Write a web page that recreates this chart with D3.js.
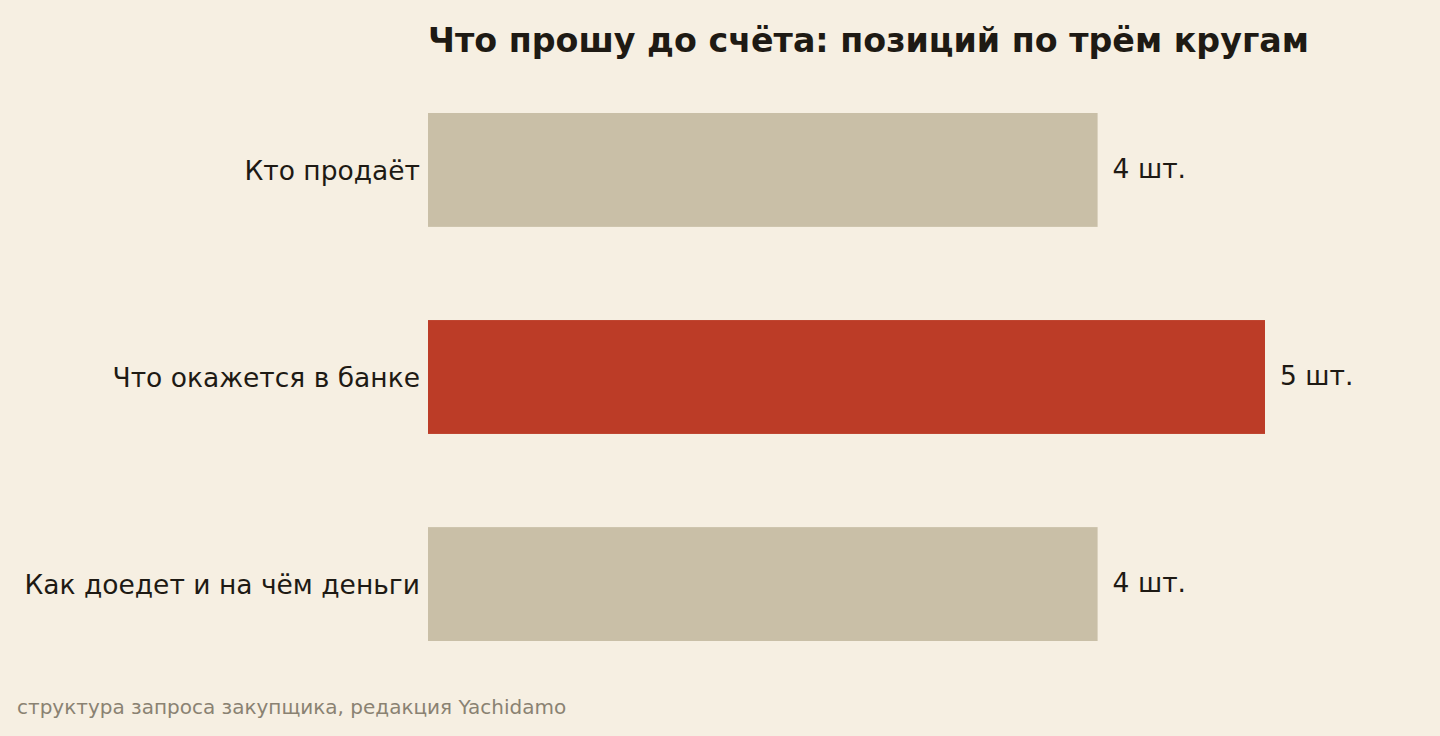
<!DOCTYPE html>
<html>
<head>
<meta charset="utf-8">
<script src="https://cdn.jsdelivr.net/npm/d3@7"></script>
<style>
  body { margin: 0; background: #f6efe2; }
  svg { display: block; font-family: "DejaVu Sans", sans-serif; }
</style>
</head>
<body>
<div id="graph"></div>
<script>
var categories = ["Кто продаёт", "Что окажется в банке", "Как доедет и на чём деньги"];
var values = [4, 5, 4];
var unitText = " шт.";
var highlight = [false, true, false];
var titleText = "Что прошу до счёта: позиций по трём кругам";
var sourceText = "структура запроса закупщика, редакция Yachidamo";

var W = 1440, H = 736;
var svg = d3.select("#graph").append("svg").attr("width", W).attr("height", H);

svg.append("rect").attr("width", W).attr("height", H).attr("fill", "#f6efe2");

var x = d3.scaleLinear().domain([0, 5]).range([428, 1265]);
var y = d3.scaleBand().domain(categories).range([113, 641]).paddingInner(0.45).paddingOuter(0);

// title
svg.append("text")
  .text(titleText)
  .attr("x", 428)
  .attr("y", 52)
  .attr("font-size", 33.3)
  .attr("font-weight", "bold")
  .attr("fill", "#1e1a14");

svg.selectAll("rect.barra")
  .data(values)
  .enter().append("rect")
  .attr("class", "barra")
  .attr("x", x(0))
  .attr("y", function(d, i){ return y(categories[i]); })
  .attr("width", function(d){ return x(d) - x(0); })
  .attr("height", y.bandwidth())
  .attr("fill", function(d, i){ return highlight[i] ? "#bc3c27" : "#c9bfa7"; });

// category labels
svg.selectAll("text.cat")
  .data(categories)
  .enter().append("text")
  .attr("class", "cat")
  .text(function(d){ return d; })
  .attr("x", x(0) - 8)
  .attr("y", function(d){ return y(d) + y.bandwidth() / 2 + 1; })
  .attr("dy", "0.35em")
  .attr("text-anchor", "end")
  .attr("font-size", 26.5)
  .attr("fill", "#1e1a14");

// value labels
svg.selectAll("text.val")
  .data(values)
  .enter().append("text")
  .attr("class", "val")
  .text(function(d){ return d + unitText; })
  .attr("x", function(d){ return x(d) + 15; })
  .attr("y", function(d, i){ return y(categories[i]) + y.bandwidth() / 2 - 1; })
  .attr("dy", "0.35em")
  .attr("font-size", 26.5)
  .attr("fill", "#1e1a14");

svg.append("text")
  .text(sourceText)
  .attr("x", 17)
  .attr("y", 714)
  .attr("font-size", 20)
  .attr("fill", "#8a8272");
</script>
</body>
</html>
